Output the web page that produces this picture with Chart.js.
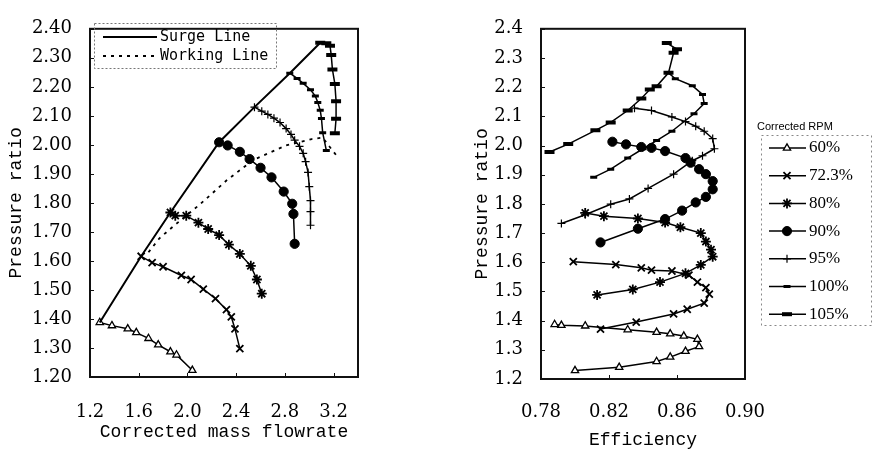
<!DOCTYPE html>
<html>
<head>
<meta charset="utf-8">
<script src="https://cdn.jsdelivr.net/npm/chart.js@4.4.1/dist/chart.umd.min.js"></script>
<style>
    body { margin: 0; background: #fff; }
    #wrap { position: relative; width: 873px; height: 457px; }
    #mapChart { position: absolute; left: 0; top: 0; }
    #effChart { position: absolute; left: 440px; top: 0; }
</style>
</head>
<body>
<div id="wrap">
    <canvas id="mapChart" width="440" height="457"></canvas>
    <canvas id="effChart" width="433" height="457"></canvas>
</div>
<script>
// speed lines (corrected RPM)
var speeds = ['60%', '72.3%', '80%', '90%', '95%', '100%', '105%'];

// left: corrected mass flowrate vs pressure ratio
var flow60 = [1.28, 1.38, 1.51, 1.58, 1.68, 1.76, 1.86, 1.91, 2.04];
var pr60 = [1.388, 1.377, 1.366, 1.353, 1.333, 1.311, 1.287, 1.276, 1.223];
var flow72 = [1.62, 1.71, 1.80, 1.95, 2.03, 2.13, 2.23, 2.32, 2.36, 2.39, 2.43];
var pr72 = [1.616, 1.594, 1.580, 1.550, 1.536, 1.503, 1.470, 1.432, 1.407, 1.366, 1.298];
var flow80 = [1.86, 1.90, 1.99, 2.09, 2.17, 2.26, 2.34, 2.43, 2.52, 2.57, 2.61];
var pr80 = [1.767, 1.756, 1.756, 1.732, 1.710, 1.689, 1.656, 1.624, 1.583, 1.536, 1.487];
var flow90 = [2.26, 2.33, 2.43, 2.51, 2.60, 2.69, 2.79, 2.86, 2.87, 2.88];
var pr90 = [2.009, 1.998, 1.976, 1.951, 1.921, 1.888, 1.839, 1.797, 1.762, 1.659];
var flow95 = [2.55, 2.61, 2.66, 2.71, 2.76, 2.81, 2.85, 2.88, 2.92, 2.95, 2.97, 2.99, 3.00, 3.01, 3.01, 3.01];
var pr95 = [2.130, 2.116, 2.105, 2.092, 2.077, 2.056, 2.036, 2.016, 1.995, 1.971, 1.942, 1.905, 1.856, 1.808, 1.770, 1.723];
var flow100 = [2.84, 2.90, 2.95, 3.01, 3.05, 3.07, 3.09, 3.10, 3.11, 3.14];
var pr100 = [2.247, 2.229, 2.212, 2.190, 2.168, 2.146, 2.119, 2.091, 2.042, 1.981];
var flow105 = [3.09, 3.14, 3.17, 3.18, 3.19, 3.21, 3.22, 3.22, 3.21];
var pr105 = [2.352, 2.350, 2.342, 2.310, 2.260, 2.210, 2.150, 2.090, 2.040];
var surgeFlow = [1.28, 1.62, 1.86, 2.26, 2.55, 2.84, 3.09];
var surgePr = [1.388, 1.616, 1.767, 2.009, 2.130, 2.247, 2.352];
var workFlow = [1.68, 1.77, 1.88, 2.10, 2.32, 2.54, 2.81, 3.02, 3.11, 3.17, 3.22];
var workPr = [1.630, 1.678, 1.718, 1.794, 1.877, 1.948, 1.998, 2.020, 2.025, 1.992, 1.965];

// right: efficiency vs pressure ratio
var eff60 = [0.788, 0.792, 0.806, 0.831, 0.848, 0.856, 0.864, 0.872, 0.873, 0.865, 0.856, 0.848, 0.826, 0.800];
var effPr60 = [1.387, 1.384, 1.382, 1.369, 1.360, 1.355, 1.347, 1.336, 1.311, 1.295, 1.275, 1.260, 1.240, 1.229];
var eff72 = [0.799, 0.824, 0.839, 0.845, 0.857, 0.867, 0.872, 0.877, 0.879, 0.876, 0.866, 0.858, 0.836, 0.815];
var effPr72 = [1.602, 1.592, 1.581, 1.573, 1.570, 1.556, 1.532, 1.513, 1.491, 1.460, 1.439, 1.423, 1.395, 1.371];
var eff80 = [0.806, 0.817, 0.837, 0.853, 0.862, 0.874, 0.877, 0.880, 0.881, 0.874, 0.865, 0.850, 0.834, 0.813];
var effPr80 = [1.769, 1.758, 1.750, 1.736, 1.720, 1.700, 1.671, 1.643, 1.619, 1.591, 1.562, 1.532, 1.507, 1.488];
var eff90 = [0.822, 0.830, 0.839, 0.845, 0.853, 0.865, 0.868, 0.873, 0.877, 0.881, 0.881, 0.877, 0.871, 0.863, 0.853, 0.837, 0.815];
var effPr90 = [2.013, 2.004, 1.995, 1.992, 1.981, 1.957, 1.941, 1.919, 1.902, 1.878, 1.850, 1.824, 1.805, 1.777, 1.748, 1.715, 1.668];
var eff95 = [0.835, 0.845, 0.857, 0.865, 0.871, 0.876, 0.881, 0.882, 0.875, 0.869, 0.858, 0.843, 0.832, 0.821, 0.806, 0.792];
var effPr95 = [2.128, 2.120, 2.098, 2.082, 2.066, 2.049, 2.024, 1.989, 1.965, 1.948, 1.902, 1.853, 1.817, 1.799, 1.763, 1.733];
var eff100 = [0.855, 0.859, 0.869, 0.875, 0.876, 0.870, 0.857, 0.848, 0.840, 0.831, 0.821, 0.811];
var effPr100 = [2.249, 2.229, 2.205, 2.175, 2.144, 2.109, 2.049, 2.017, 1.989, 1.957, 1.919, 1.891];
var eff105 = [0.854, 0.860, 0.858, 0.855, 0.848, 0.844, 0.839, 0.831, 0.821, 0.812, 0.796, 0.785];
var effPr105 = [2.351, 2.330, 2.318, 2.249, 2.203, 2.192, 2.161, 2.120, 2.079, 2.052, 2.005, 1.978];

// tick labels
var flowTicks = [1.2, 1.6, 2.0, 2.4, 2.8, 3.2];
var effTicks = [0.78, 0.82, 0.86, 0.90];
var prTicks = [1.2, 1.3, 1.4, 1.5, 1.6, 1.7, 1.8, 1.9, 2.0, 2.1, 2.2, 2.3, 2.4];

var markers = {
    '60%':   { pointStyle: 'triangle', radius: 4.2, fill: '#fff', bw: 1.3 },
    '72.3%': { pointStyle: 'crossRot', radius: 5, fill: '#000', bw: 1.8 },
    '80%':   { pointStyle: 'star', radius: 5, fill: '#000', bw: 1.8 },
    '90%':   { pointStyle: 'circle', radius: 4.6, fill: '#000', bw: 1 },
    '95%':   { pointStyle: 'cross', radius: 4, fill: '#000', bw: 1.2 },
    '100%':  { pointStyle: 'line', radius: 3.5, fill: '#000', bw: 3 },
    '105%':  { pointStyle: 'line', radius: 5, fill: '#000', bw: 4 }
};

function pts(xs, ys) {
    return xs.map(function (x, i) { return { x: x, y: ys[i] }; });
}

function speedSet(name, xs, ys) {
    var m = markers[name];
    return {
        label: name,
        data: pts(xs, ys),
        showLine: true,
        borderColor: '#000',
        borderWidth: 1.5,
        pointStyle: m.pointStyle,
        pointRadius: m.radius,
        pointBackgroundColor: m.fill,
        pointBorderColor: '#000',
        pointBorderWidth: m.bw
    };
}

function setTicks(list) {
    return function (axis) {
        axis.ticks = list.map(function (v) { return { value: v }; });
    };
}

var frame = {
    id: 'frame',
    afterDraw: function (chart) {
        var ctx = chart.ctx, a = chart.chartArea, sx = chart.scales.x, sy = chart.scales.y;
        ctx.save();
        ctx.strokeStyle = '#111';
        ctx.lineWidth = 1;
        ctx.beginPath();
        sy.ticks.forEach(function (t) {
            var y = Math.round(sy.getPixelForValue(t.value)) + 0.5;
            ctx.moveTo(a.left, y); ctx.lineTo(a.left + 4, y);
        });
        sx.ticks.forEach(function (t) {
            var x = Math.round(sx.getPixelForValue(t.value)) + 0.5;
            ctx.moveTo(x, a.bottom); ctx.lineTo(x, a.bottom - 4);
        });
        ctx.stroke();
        ctx.lineWidth = 2;
        ctx.strokeRect(a.left, a.top, a.right - a.left, a.bottom - a.top);
        ctx.restore();
    }
};

var lineLegend = {
    id: 'lineLegend',
    afterDraw: function (chart) {
        var ctx = chart.ctx;
        ctx.save();
        ctx.strokeStyle = '#777';
        ctx.lineWidth = 1;
        ctx.setLineDash([2, 2]);
        ctx.strokeRect(94.5, 23.5, 182, 45);
        ctx.strokeStyle = '#000';
        ctx.lineWidth = 1.8;
        ctx.setLineDash([]);
        ctx.beginPath(); ctx.moveTo(103, 37); ctx.lineTo(157, 37); ctx.stroke();
        ctx.setLineDash([3, 5]);
        ctx.beginPath(); ctx.moveTo(103, 56); ctx.lineTo(157, 56); ctx.stroke();
        ctx.setLineDash([]);
        ctx.fillStyle = '#000';
        ctx.font = '15px "DejaVu Sans Mono"';
        ctx.textBaseline = 'middle';
        ctx.fillText('Surge Line', 160, 37);
        ctx.fillText('Working Line', 160, 56);
        ctx.restore();
    }
};

var rpmLegend = {
    id: 'rpmLegend',
    afterDraw: function (chart) {
        var ctx = chart.ctx;
        ctx.save();
        ctx.fillStyle = '#000';
        ctx.textBaseline = 'middle';
        ctx.font = '11px "Liberation Sans"';
        ctx.fillText('Corrected RPM', 317, 127);
        ctx.strokeStyle = '#888';
        ctx.lineWidth = 1;
        ctx.setLineDash([2, 3]);
        ctx.strokeRect(321.5, 135.5, 110, 190);
        ctx.setLineDash([]);
        ctx.font = '17px "Liberation Serif"';
        speeds.forEach(function (s, i) {
            var y = 148 + i * 27.7, m = markers[s];
            ctx.strokeStyle = '#000';
            ctx.lineWidth = 1.5;
            ctx.beginPath(); ctx.moveTo(329, y); ctx.lineTo(366, y); ctx.stroke();
            ctx.fillStyle = m.fill;
            ctx.lineWidth = m.bw;
            Chart.helpers.drawPoint(ctx, { pointStyle: m.pointStyle, radius: m.radius, borderWidth: m.bw, rotation: 0 }, 347, y);
            ctx.fillStyle = '#000';
            ctx.fillText(s, 369, y);
        });
        ctx.restore();
    }
};

var serifTick = { family: 'DejaVu Serif', size: 18 };
var monoTitle = { family: 'Liberation Mono', size: 18 };

var mapChart = new Chart(document.getElementById('mapChart').getContext('2d'), {
    type: 'scatter',
    data: {
        datasets: [
            {
                label: 'Surge Line', data: pts(surgeFlow, surgePr), showLine: true,
                borderColor: '#000', borderWidth: 2, pointRadius: 0
            },
            {
                label: 'Working Line', data: pts(workFlow, workPr), showLine: true,
                borderColor: '#000', borderWidth: 1.8, borderDash: [3, 5], pointRadius: 0
            },
            speedSet('60%', flow60, pr60),
            speedSet('72.3%', flow72, pr72),
            speedSet('80%', flow80, pr80),
            speedSet('90%', flow90, pr90),
            speedSet('95%', flow95, pr95),
            speedSet('100%', flow100, pr100),
            speedSet('105%', flow105, pr105)
        ]
    },
    options: {
        responsive: false,
        animation: false,
        layout: { padding: { left: 0, right: 82, top: 13, bottom: 0 } },
        plugins: { legend: { display: false }, tooltip: { enabled: false } },
        scales: {
            x: {
                min: 1.2, max: 3.4,
                afterBuildTicks: setTicks(flowTicks),
                afterFit: function (s) { s.height = 80; },
                grid: { display: false, drawTicks: false }, border: { display: false },
                ticks: { color: '#000', font: serifTick, padding: 25, maxRotation: 0,
                    callback: function (v) { return v.toFixed(1); } },
                title: { display: true, text: 'Corrected mass flowrate', color: '#000', font: monoTitle, padding: { top: 0, bottom: 14 } }
            },
            y: {
                min: 1.2, max: 2.4,
                afterBuildTicks: setTicks(prTicks),
                afterFit: function (s) { s.width = 90; },
                grid: { display: false, drawTicks: false }, border: { display: false },
                ticks: { color: '#000', font: serifTick, padding: 18,
                    callback: function (v) { return v.toFixed(2); } },
                title: { display: true, text: 'Pressure ratio', color: '#000', font: monoTitle, padding: { top: 5, bottom: 0 } }
            }
        }
    },
    plugins: [frame, lineLegend]
});

var effChart = new Chart(document.getElementById('effChart').getContext('2d'), {
    type: 'scatter',
    data: {
        datasets: [
            speedSet('60%', eff60, effPr60),
            speedSet('72.3%', eff72, effPr72),
            speedSet('80%', eff80, effPr80),
            speedSet('90%', eff90, effPr90),
            speedSet('95%', eff95, effPr95),
            speedSet('100%', eff100, effPr100),
            speedSet('105%', eff105, effPr105)
        ]
    },
    options: {
        responsive: false,
        animation: false,
        layout: { padding: { left: 0, right: 128, top: 11, bottom: 0 } },
        plugins: { legend: { display: false }, tooltip: { enabled: false } },
        scales: {
            x: {
                min: 0.78, max: 0.90,
                afterBuildTicks: setTicks(effTicks),
                afterFit: function (s) { s.height = 78; },
                grid: { display: false, drawTicks: false }, border: { display: false },
                ticks: { color: '#000', font: serifTick, padding: 23, maxRotation: 0,
                    callback: function (v) { return v.toFixed(2); } },
                title: { display: true, text: 'Efficiency', color: '#000', font: monoTitle, padding: { top: 0, bottom: 6 } }
            },
            y: {
                min: 1.2, max: 2.4,
                afterBuildTicks: setTicks(prTicks),
                afterFit: function (s) { s.width = 101; },
                grid: { display: false, drawTicks: false }, border: { display: false },
                ticks: { color: '#000', font: serifTick, padding: 18,
                    callback: function (v) { return v.toFixed(1); } },
                title: { display: true, text: 'Pressure ratio', color: '#000', font: monoTitle, padding: { top: 31, bottom: 0 } }
            }
        }
    },
    plugins: [frame, rpmLegend]
});
</script>
</body>
</html>
